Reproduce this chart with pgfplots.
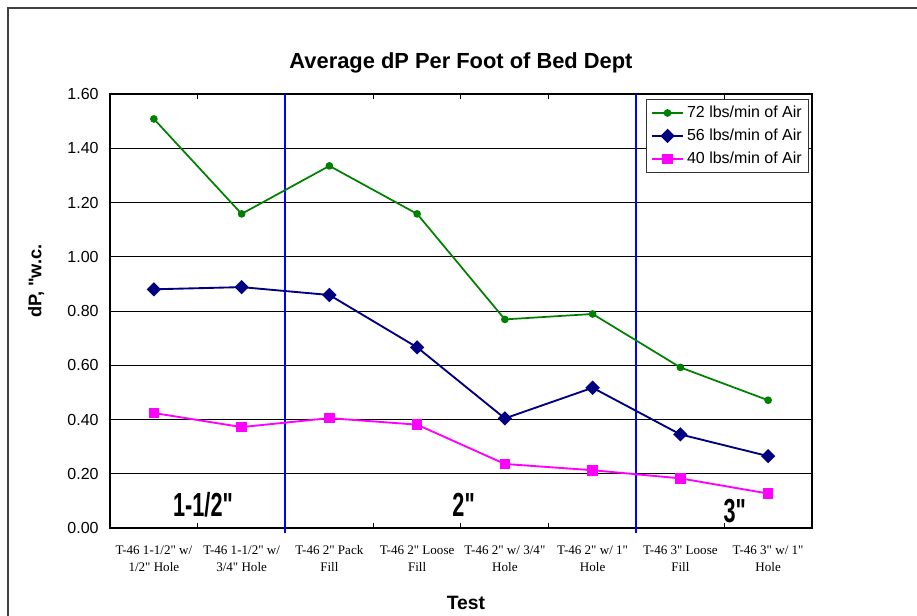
\documentclass[border=0pt]{standalone}
\usepackage{fontspec}
\setmainfont{Liberation Sans}[Ligatures=TeXOff]
\newfontfamily\seriffont{Liberation Serif}[Ligatures=TeXOff]
\usepackage{graphicx}
\usepackage{pgfplots}
\pgfplotsset{compat=1.18}

\definecolor{cgreen}{RGB}{0,128,0}
\definecolor{cnavy}{RGB}{0,0,128}
\definecolor{cmag}{RGB}{255,0,255}
\definecolor{vblue}{RGB}{0,0,255}
\newcommand{\tl}[2]{\rule{0pt}{8pt}#1\\#2}

\begin{document}
\begin{tikzpicture}
\useasboundingbox (0,0) rectangle (687.75pt,462pt);
\draw[line width=1.2pt, color=black!75] (6pt,-5pt) -- (6pt,456pt) -- (700pt,456pt);
\begin{axis}[
  at={(82.5pt,66pt)}, anchor=south west,
  scale only axis, width=526.5pt, height=325.5pt,
  xmin=-0.5, xmax=7.5, ymin=0, ymax=1.6,
  clip=false,
  axis line style={line width=1.5pt},
  xtick={0,1,2,3,4,5,6,7},
  xticklabels={{\tl{T-46 1-1/2" w/}{1/2" Hole}},{\tl{T-46 1-1/2" w/}{3/4" Hole}},{\tl{T-46 2" Pack}{Fill}},{\tl{T-46 2" Loose}{Fill}},{\tl{T-46 2" w/ 3/4"}{Hole}},{\tl{T-46 2" w/ 1"}{Hole}},{\tl{T-46 3" Loose}{Fill}},{\tl{T-46 3" w/ 1"}{Hole}}},
  x tick label style={font=\seriffont\fontsize{9.8}{12.8}\selectfont, align=center, yshift=-8.5pt},
  minor xtick={0.5,1.5,2.5,3.5,4.5,5.5,6.5},
  extra x ticks={1.5,5.5},
  extra x tick labels={},
  extra x tick style={grid=major, major grid style={color=vblue, line width=1.5pt}, major tick length=0pt},
  ytick={0,0.2,0.4,0.6,0.8,1.0,1.2,1.4,1.6},
  major tick length=0pt,
  minor tick length=4pt,
  tick align=inside,
  tick style={black, line width=0.75pt},
  y tick label style={font=\fontsize{12}{14}\selectfont, xshift=-5pt,
    /pgf/number format/.cd, fixed, fixed zerofill, precision=2, assume math mode=true},
  ymajorgrids,
  grid style={black, line width=0.7pt},
  legend style={at={(0.9957,0.9885)}, anchor=north east, draw=black!80, line width=0.8pt,
    font=\fontsize{12}{14}\selectfont, row sep=3pt, inner sep=3pt},
  legend cell align=left,
  legend image code/.code={\draw[mark repeat=2,mark phase=2] plot coordinates {(0cm,0cm) (0.42cm,0cm) (0.84cm,0cm)};},
]
\addplot[color=cgreen, line width=1.3pt, mark=*, mark size=2.2pt] coordinates
  {(0,1.508) (1,1.158) (2,1.335) (3,1.158) (4,0.769) (5,0.789) (6,0.592) (7,0.471)};
\addlegendentry{72 lbs/min of Air}
\addplot[color=cnavy, line width=1.4pt, mark=square*, mark size=3.1pt, mark options={rotate=45}] coordinates
  {(0,0.880) (1,0.888) (2,0.859) (3,0.666) (4,0.404) (5,0.517) (6,0.345) (7,0.265)};
\addlegendentry{56 lbs/min of Air}
\addplot[color=cmag, line width=1.4pt, mark=square*, mark size=3.3pt] coordinates
  {(0,0.424) (1,0.372) (2,0.405) (3,0.381) (4,0.236) (5,0.213) (6,0.183) (7,0.127)};
\addlegendentry{40 lbs/min of Air}

\draw[color=vblue, line width=1.5pt] (axis cs:1.5,-0.02) -- (axis cs:1.5,0.01);
\draw[color=vblue, line width=1.5pt] (axis cs:5.5,-0.02) -- (axis cs:5.5,0.01);

\node[font=\bfseries\fontsize{25}{25}\selectfont] at (axis cs:0.56,0.085) {\scalebox{0.65}[1]{1-1/2"}};
\node[font=\bfseries\fontsize{25}{25}\selectfont] at (axis cs:3.53,0.085) {\scalebox{0.65}[1]{2"}};
\node[font=\bfseries\fontsize{25}{25}\selectfont] at (axis cs:6.62,0.063) {\scalebox{0.65}[1]{3"}};

\node[font=\bfseries\fontsize{16.4}{19}\selectfont] at (axis description cs:0.5,1.071) {Average dP Per Foot of Bed Dept};
\node[font=\bfseries\fontsize{13.7}{16}\selectfont, rotate=90] at (axis description cs:-0.105,0.569) {dP, "w.c.};
\node[font=\bfseries\fontsize{14.5}{17}\selectfont] at (axis description cs:0.507,-0.173) {Test};
\end{axis}
\end{tikzpicture}
\end{document}
